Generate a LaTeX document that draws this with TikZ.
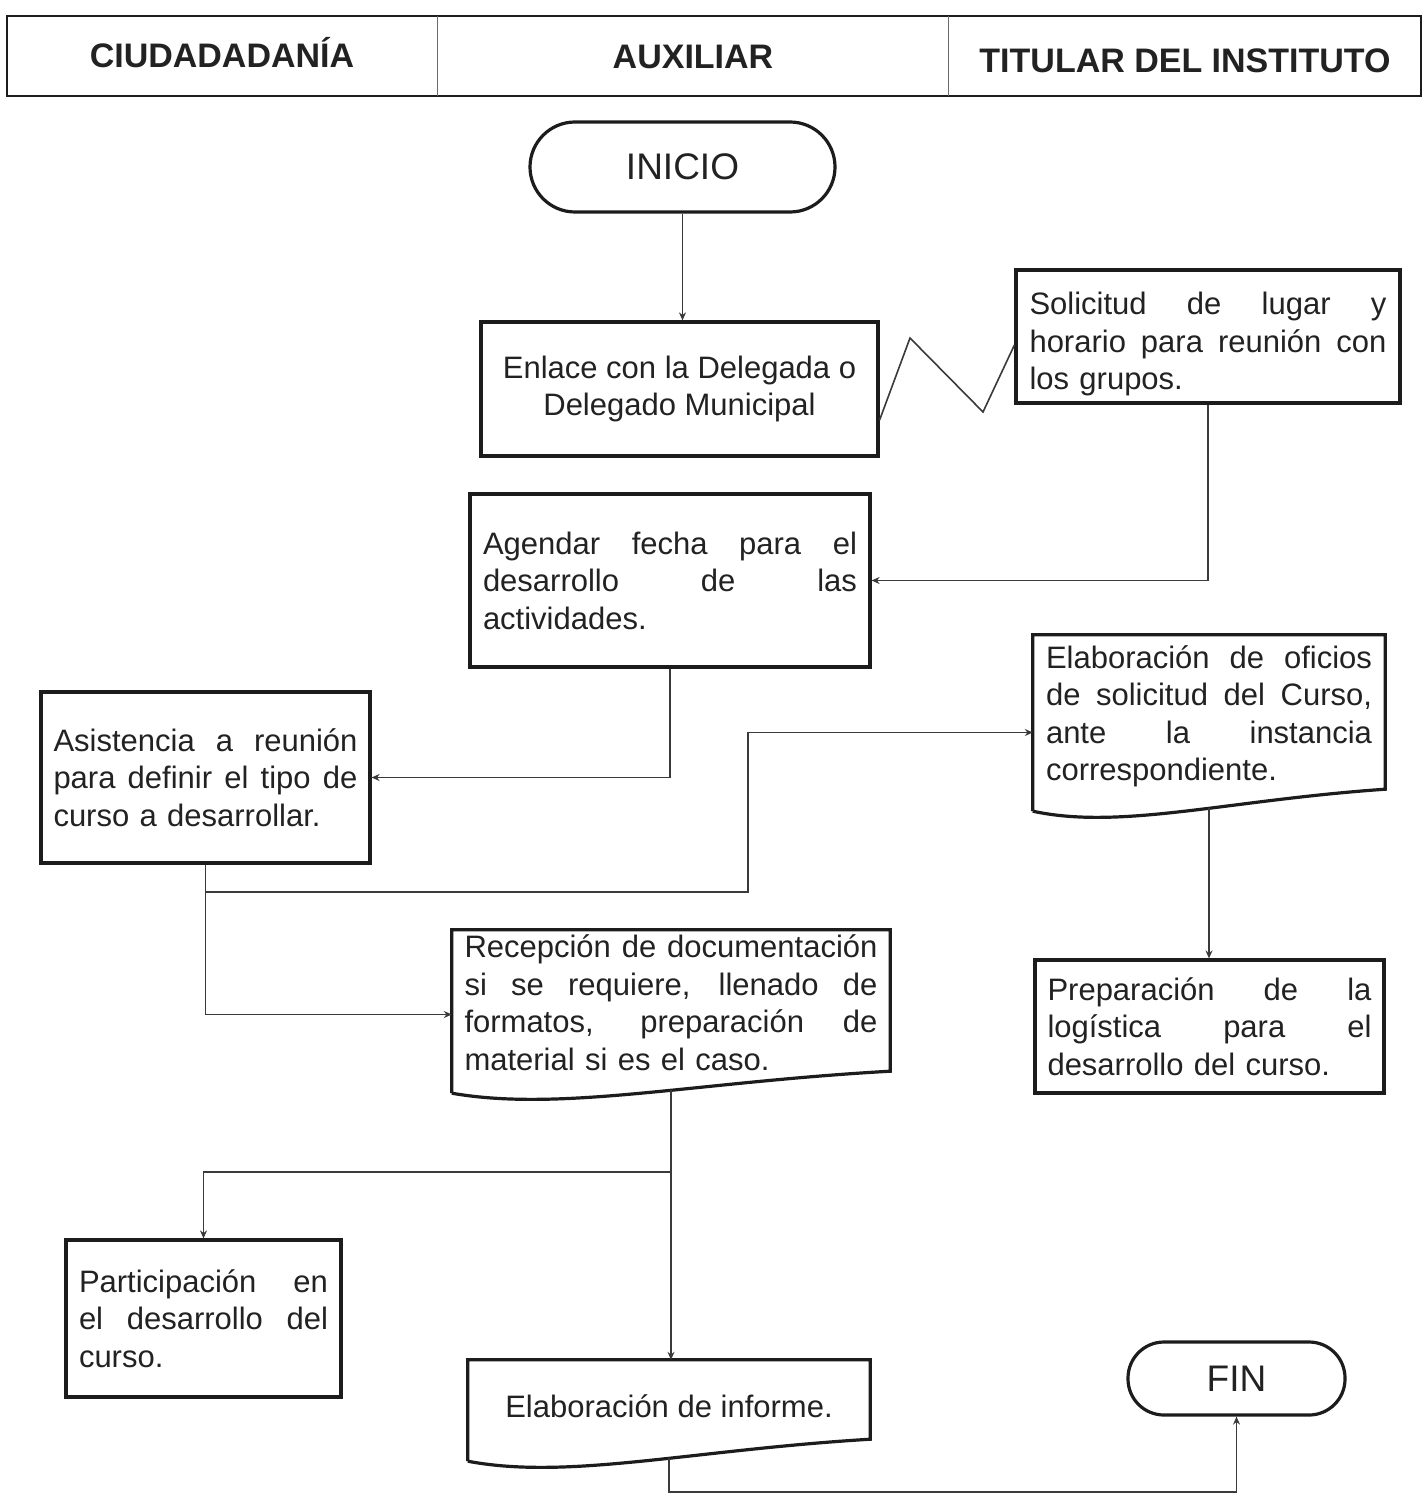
\documentclass[tikz,border=0pt]{standalone}
\usepackage{fontspec}
\setmainfont{Liberation Sans}
\usetikzlibrary{arrows.meta,calc}

\definecolor{ink}{HTML}{1C1C1C}
\definecolor{wire}{HTML}{3A3A3A}
\definecolor{txt}{HTML}{222222}
\definecolor{rule}{HTML}{6A6A6A}

% one fully justified line of a text block (width set by the jw style);
% the stretchable \spaceskip undoes the fixed spaces of align=left
\newcommand{\jwidth}{0pt}
\newcommand{\jl}[1]{\makebox[\jwidth][s]{\spaceskip=0.278em plus 1fil\relax #1}\\}

% document symbol: straight top and sides, wavy bottom edge;
% #2 moves the wavy edge below the node's south border.
% (#1-w) is the point of the wavy edge under the node's centre.
\newcommand{\docshape}[2]{%
  \draw[boxline] ($(#1.south west)+(0,{#2+11})$) -- (#1.north west) -- (#1.north east)
    -- ($(#1.south east)+(0,{#2-11})$)
    .. controls ($(#1.south west)!0.55!(#1.south east)+(0,{#2})$)
       and ($(#1.south west)!0.25!(#1.south east)+(0,{#2+30})$)
    .. ($(#1.south west)+(0,{#2+11})$);
  \coordinate (#1-w) at ($(#1.south)+(0,{#2+8})$);}

\tikzset{
  boxline/.style={draw=ink, line width=3.2pt, line join=miter},
  jw/.style={text width=#1, align=left,
    execute at begin node={\renewcommand{\jwidth}{#1}}},
  proc/.style={boxline, rectangle, inner sep=0pt, text=txt,
    font=\fontsize{31}{37.5}\selectfont},
  doc/.style={rectangle, inner sep=0pt, text=txt,
    font=\fontsize{31}{37.5}\selectfont},
  term/.style={boxline, rectangle, inner sep=0pt, text=txt,
    font=\fontsize{37}{44}\selectfont},
  head/.style={inner sep=0pt, text=txt,
    font=\fontsize{34}{40}\selectfont\bfseries},
  wireline/.style={draw=wire, line width=1.6pt},
  flow/.style={wireline, -{Stealth[length=8pt,width=7pt]}},
}

\begin{document}
\begin{tikzpicture}[x=1pt, y=-1pt]
\useasboundingbox[fill=white] (0,0) rectangle (1426,1495);

% lane header
\draw[draw=ink, line width=2.2pt] (7,16) rectangle (1421,96);
\draw[draw=rule, line width=1pt] (437,16) -- (437,96);
\draw[draw=rule, line width=1pt] (948,16) -- (948,96);
\node[head] (h1) at (222,53) {CIUDADADANÍA};
\node[head] (h2) at (693,57) {AUXILIAR};
\node[head] (h3) at (1185,61) {TITULAR DEL INSTITUTO};

% terminals
\node[term, minimum width=305pt, minimum height=90pt, rounded corners=45pt]
  (inicio) at (682.5,167) {INICIO};
\node[term, minimum width=217pt, minimum height=73pt, rounded corners=36pt]
  (fin) at (1236.5,1378.5) {FIN};

% process steps
\node[proc, minimum width=397pt, minimum height=134pt, align=center]
  (b1) at (679.5,389) {Enlace con la Delegada o\\Delegado Municipal};

\node[proc, minimum width=384pt, minimum height=133pt, jw=357pt]
  (b2) at (1208,336.5)
  {\rule{0pt}{38pt}\jl{Solicitud de lugar y}\jl{horario para reunión con}los grupos.};

\node[proc, minimum width=400pt, minimum height=173pt, jw=374pt]
  (b3) at (670,580.5)
  {\jl{Agendar fecha para el}\jl{desarrollo de las}actividades.};

\node[proc, minimum width=329pt, minimum height=171pt, jw=304pt]
  (b4) at (205.5,777.5)
  {\jl{Asistencia a reunión}\jl{para definir el tipo de}curso a desarrollar.};

\node[doc, minimum width=352pt, minimum height=163pt, jw=326pt]
  (b5) at (1209,716.5)
  {\jl{Elaboración de oficios}\jl{de solicitud del Curso,}\jl{ante la instancia}correspondiente.};
\docshape{b5}{2}

\node[doc, minimum width=438pt, minimum height=145pt, jw=413pt]
  (b6) at (671,1002.5)
  {\jl{Recepción de documentación}\jl{si se requiere, llenado de}\jl{formatos, preparación de}material si es el caso.};
\docshape{b6}{7}

\node[proc, minimum width=349pt, minimum height=133pt, jw=324pt]
  (b7) at (1209.5,1026.5)
  {\jl{Preparación de la}\jl{logística para el}desarrollo del curso.};

\node[proc, minimum width=275pt, minimum height=157pt, jw=249pt]
  (b8) at (203.5,1318.5)
  {\jl{Participación en}\jl{el desarrollo del}curso.};

\node[doc, minimum width=402pt, minimum height=92pt, align=center]
  (b9) at (669,1406) {Elaboración de informe.};
\docshape{b9}{-2}

% helper points for the connectors
\coordinate (z0) at (0,420);
\coordinate (z1) at (910,338);
\coordinate (z2) at (983,412);
\coordinate (z3) at (0,345);
\coordinate (j1) at (205.5,892);
\coordinate (k1) at (748,892);
\coordinate (j2) at (671,1172);
\coordinate (j3) at (0,1492);

% connectors
\draw[flow] (inicio.south) -- (inicio.south |- b1.north);
\draw[wireline, line join=miter] (b1.east |- z0) -- (z1) -- (z2) -- (b2.west |- z3);
\draw[flow] (b2.south) |- (b3.east);
\draw[flow] (b3.south) |- (b4.east);
\draw[flow] (b4.south) |- ($(b6.west)+(0,12)$);
\draw[flow] (j1) -- (k1) |- ($(b5.west)+(0,16)$);
\draw[flow] (b5-w) -- (b5-w |- b7.north);
\draw[flow] (b6-w) -- (b6-w |- b9.north);
\draw[flow] (j2) -| (b8.north);
\draw[flow] (b9-w) -- (b9-w |- j3) -| (fin.south);

\end{tikzpicture}
\end{document}
